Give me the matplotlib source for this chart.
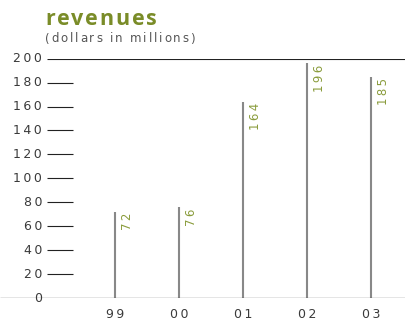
import matplotlib
matplotlib.use("Agg")
import matplotlib.pyplot as plt

years = ["99", "00", "01", "02", "03"]
revenues = [72, 76, 164, 196, 185]
yticks = [0, 20, 40, 60, 80, 100, 120, 140, 160, 180, 200]
title = "revenues"
subtitle = "(dollars in millions)"

W, H = 405, 321
fig = plt.figure(figsize=(W / 100, H / 100), dpi=100)
renderer = fig.canvas.get_renderer()

def px2x(px):
    return (px - 115) / 64.0

y0_px, y200_px = 298, 58.7
ax = fig.add_axes([0, (H - y0_px) / H, 1, (y0_px - y200_px) / H])
ax.set_xlim(px2x(0), px2x(W))
ax.set_ylim(0, 200)
ax.axis("off")

def spaced(s, sep="\u2009"):
    return sep.join(s)

def char_w(c, **kw):
    def w(s):
        t = fig.text(0, 0, s, **kw)
        v = t.get_window_extent(renderer).width
        t.remove()
        return v
    if c == " ":
        return w("x x") - w("xx")
    return w(c)

def tracked(x_px, y_px, s, target_w, **kw):
    widths = [char_w(c, **kw) for c in s]
    track = (target_w - sum(widths)) / (len(s) - 1)
    x = x_px
    for c, wc in zip(s, widths):
        if c != " ":
            fig.text(x / W, 1 - y_px / H, c, ha="left", va="center", **kw)
        x += wc + track

green_title = "#7a8c28"
green_lab = "#8a9c3c"
txt = "#3a3a3a"

# axis lines
ax.hlines(0, px2x(0), px2x(W), color="#333333", lw=0.9, zorder=3)
ax.hlines(200, px2x(47), px2x(W), color="#222222", lw=0.8)
for t in yticks[1:-1]:
    ax.hlines(t, px2x(47), px2x(73), color="#222222", lw=0.8)
for t in yticks:
    ax.text(px2x(42), t, spaced(str(t)), ha="right", va="center",
            fontsize=9, color=txt)

# bars
xs = list(range(len(years)))
ax.vlines(xs, 0, revenues, color="#888888", lw=1.5, zorder=2)
for x, v, yr in zip(xs, revenues, years):
    ax.text(x + 6 / 64, v - 1, spaced(str(v)), rotation=90, ha="left", va="top",
            fontsize=8.5, color=green_lab)
    ax.text(x, -8, spaced(yr), ha="center", va="top", fontsize=9, color=txt)

tracked(45, 19.5, title, 112, fontsize=15.5, fontweight="bold",
        family=["Open Sans", "DejaVu Sans"], color=green_title)
tracked(45, 39, subtitle, 150, fontsize=8.5, color="#555555")

fig.savefig("out.png", dpi=100)
